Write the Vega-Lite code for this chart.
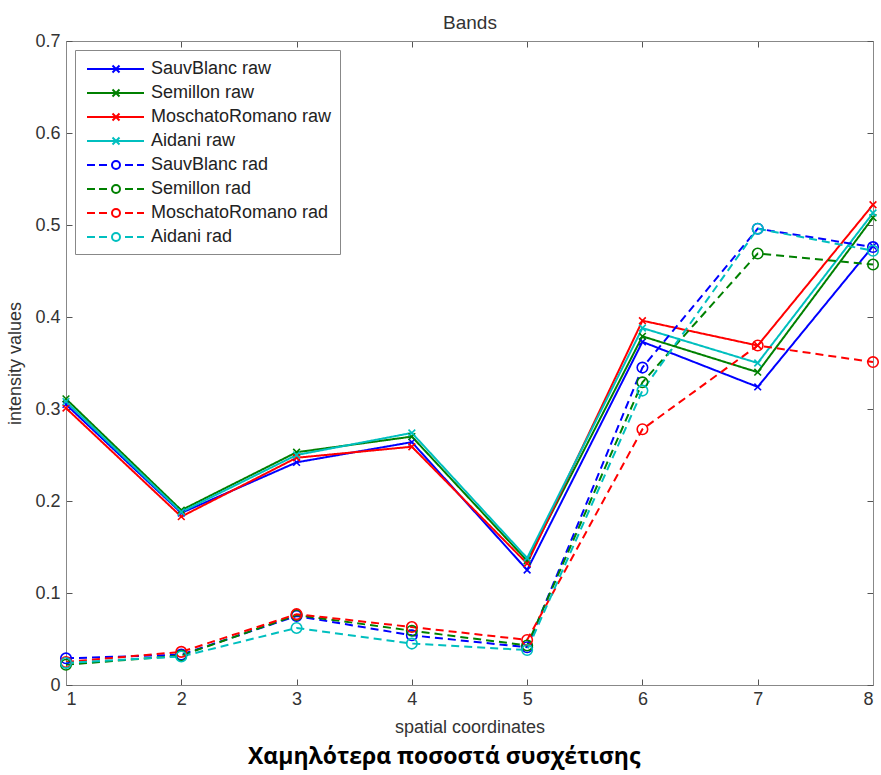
{
  "$schema": "https://vega.github.io/schema/vega-lite/v6.json",
  "width": 807,
  "height": 644,
  "autosize": {"type": "none"},
  "padding": {"left": 66, "top": 41, "right": 8, "bottom": 90},
  "background": "white",
  "config": {
    "view": {"stroke": null},
    "font": "Liberation Sans",
    "axis": {"domainColor": "#888888", "tickColor": "#555555", "grid": false, "labelFont": "Liberation Sans", "titleFont": "Liberation Sans", "labelColor": "#333333", "titleColor": "#333333", "titleFontWeight": "normal", "labelFontSize": 18, "titleFontSize": 18}
  },
  "title": {"text": "Χαμηλότερα ποσοστά συσχέτισης", "orient": "bottom", "anchor": "middle", "frame": "bounds", "font": "Open Sans", "fontSize": 23, "fontWeight": "bold", "color": "black", "offset": 10},
  "data": {"values": [
    {"x":1,"series":"SauvBlanc raw","type":"raw","v":0.305},{"x":2,"series":"SauvBlanc raw","type":"raw","v":0.187},{"x":3,"series":"SauvBlanc raw","type":"raw","v":0.242},{"x":4,"series":"SauvBlanc raw","type":"raw","v":0.264},{"x":5,"series":"SauvBlanc raw","type":"raw","v":0.125},{"x":6,"series":"SauvBlanc raw","type":"raw","v":0.373},{"x":7,"series":"SauvBlanc raw","type":"raw","v":0.324},{"x":8,"series":"SauvBlanc raw","type":"raw","v":0.477},
    {"x":1,"series":"Semillon raw","type":"raw","v":0.311},{"x":2,"series":"Semillon raw","type":"raw","v":0.190},{"x":3,"series":"Semillon raw","type":"raw","v":0.253},{"x":4,"series":"Semillon raw","type":"raw","v":0.270},{"x":5,"series":"Semillon raw","type":"raw","v":0.135},{"x":6,"series":"Semillon raw","type":"raw","v":0.379},{"x":7,"series":"Semillon raw","type":"raw","v":0.340},{"x":8,"series":"Semillon raw","type":"raw","v":0.508},
    {"x":1,"series":"MoschatoRomano raw","type":"raw","v":0.301},{"x":2,"series":"MoschatoRomano raw","type":"raw","v":0.183},{"x":3,"series":"MoschatoRomano raw","type":"raw","v":0.247},{"x":4,"series":"MoschatoRomano raw","type":"raw","v":0.259},{"x":5,"series":"MoschatoRomano raw","type":"raw","v":0.132},{"x":6,"series":"MoschatoRomano raw","type":"raw","v":0.396},{"x":7,"series":"MoschatoRomano raw","type":"raw","v":0.369},{"x":8,"series":"MoschatoRomano raw","type":"raw","v":0.522},
    {"x":1,"series":"Aidani raw","type":"raw","v":0.308},{"x":2,"series":"Aidani raw","type":"raw","v":0.188},{"x":3,"series":"Aidani raw","type":"raw","v":0.250},{"x":4,"series":"Aidani raw","type":"raw","v":0.274},{"x":5,"series":"Aidani raw","type":"raw","v":0.138},{"x":6,"series":"Aidani raw","type":"raw","v":0.388},{"x":7,"series":"Aidani raw","type":"raw","v":0.350},{"x":8,"series":"Aidani raw","type":"raw","v":0.513},
    {"x":1,"series":"SauvBlanc rad","type":"rad","v":0.029},{"x":2,"series":"SauvBlanc rad","type":"rad","v":0.033},{"x":3,"series":"SauvBlanc rad","type":"rad","v":0.075},{"x":4,"series":"SauvBlanc rad","type":"rad","v":0.054},{"x":5,"series":"SauvBlanc rad","type":"rad","v":0.041},{"x":6,"series":"SauvBlanc rad","type":"rad","v":0.345},{"x":7,"series":"SauvBlanc rad","type":"rad","v":0.496},{"x":8,"series":"SauvBlanc rad","type":"rad","v":0.476},
    {"x":1,"series":"Semillon rad","type":"rad","v":0.022},{"x":2,"series":"Semillon rad","type":"rad","v":0.032},{"x":3,"series":"Semillon rad","type":"rad","v":0.076},{"x":4,"series":"Semillon rad","type":"rad","v":0.059},{"x":5,"series":"Semillon rad","type":"rad","v":0.043},{"x":6,"series":"Semillon rad","type":"rad","v":0.329},{"x":7,"series":"Semillon rad","type":"rad","v":0.469},{"x":8,"series":"Semillon rad","type":"rad","v":0.457},
    {"x":1,"series":"MoschatoRomano rad","type":"rad","v":0.025},{"x":2,"series":"MoschatoRomano rad","type":"rad","v":0.036},{"x":3,"series":"MoschatoRomano rad","type":"rad","v":0.077},{"x":4,"series":"MoschatoRomano rad","type":"rad","v":0.063},{"x":5,"series":"MoschatoRomano rad","type":"rad","v":0.049},{"x":6,"series":"MoschatoRomano rad","type":"rad","v":0.278},{"x":7,"series":"MoschatoRomano rad","type":"rad","v":0.369},{"x":8,"series":"MoschatoRomano rad","type":"rad","v":0.351},
    {"x":1,"series":"Aidani rad","type":"rad","v":0.024},{"x":2,"series":"Aidani rad","type":"rad","v":0.031},{"x":3,"series":"Aidani rad","type":"rad","v":0.062},{"x":4,"series":"Aidani rad","type":"rad","v":0.045},{"x":5,"series":"Aidani rad","type":"rad","v":0.038},{"x":6,"series":"Aidani rad","type":"rad","v":0.320},{"x":7,"series":"Aidani rad","type":"rad","v":0.496},{"x":8,"series":"Aidani rad","type":"rad","v":0.472}
  ]},
  "resolve": {"axis": {"x": "independent", "y": "independent"}},
  "layer": [
    {
      "mark": {"type": "line", "strokeWidth": 2},
      "encoding": {
        "x": {"field": "x", "type": "quantitative", "scale": {"domain": [1, 8], "nice": false, "zero": false},
              "axis": {"orient": "bottom", "title": "spatial coordinates", "values": [1,2,3,4,5,6,7,8], "format": "d", "tickSize": -6, "labelPadding": 11, "titlePadding": 10}},
        "y": {"field": "v", "type": "quantitative", "scale": {"domain": [0, 0.7], "nice": false},
              "axis": {"orient": "left", "title": "intensity values", "values": [0,0.1,0.2,0.3,0.4,0.5,0.6,0.7], "format": "~g", "tickSize": -6, "labelPadding": 12, "titlePadding": 10}},
        "color": {"field": "series", "type": "nominal", "title": null,
          "scale": {"domain": ["SauvBlanc raw","Semillon raw","MoschatoRomano raw","Aidani raw","SauvBlanc rad","Semillon rad","MoschatoRomano rad","Aidani rad"],
                    "range": ["#0000ff","#008000","#ff0000","#00bfbf","#0000ff","#008000","#ff0000","#00bfbf"]},
          "legend": {"orient": "top-left", "offset": 9, "padding": 8, "strokeColor": "#888888", "fillColor": "white", "symbolSize": 400, "rowPadding": 4, "labelOffset": 46, "labelFontSize": 18, "labelFont": "Liberation Sans", "labelColor": "#222222", "labelLimit": 400,
            "encode": {"symbols": {"update": {
              "shape": {"signal": "indexof(datum.value, 'rad') > 0 ? 'M-0.7,0L0.1,0M0.5,0L1.3,0M1.8,0A0.4,0.4 0 1,0 2.6,0A0.4,0.4 0 1,0 1.8,0M3.1,0L3.9,0M4.3,0L5,0' : 'M-0.7,0L5,0M1.85,-0.35L2.55,0.35M1.85,0.35L2.55,-0.35'"},
              "stroke": {"scale": "color", "field": "value"},
              "fill": {"value": "transparent"},
              "strokeWidth": {"value": 2},
              "strokeDash": {"value": []},
              "opacity": {"value": 1}
            }}}}},
        "strokeDash": {"field": "type", "type": "nominal", "scale": {"domain": ["raw", "rad"], "range": [[1, 0], [8, 5]]}, "legend": null},
        "detail": {"field": "series"}
      }
    },
    {
      "mark": {"type": "point", "filled": false, "strokeWidth": 1.6, "opacity": 1},
      "encoding": {
        "x": {"field": "x", "type": "quantitative",
              "axis": {"orient": "top", "title": "Bands", "labels": false, "values": [1,2,3,4,5,6,7,8], "tickSize": -6, "titlePadding": 8, "titleFontSize": 19}},
        "y": {"field": "v", "type": "quantitative",
              "axis": {"orient": "right", "title": null, "labels": false, "values": [0,0.1,0.2,0.3,0.4,0.5,0.6,0.7], "tickSize": -6}},
        "color": {"field": "series", "type": "nominal"},
        "shape": {"field": "type", "type": "nominal", "scale": {"domain": ["raw", "rad"], "range": ["M-1,-1L1,1M-1,1L1,-1", "circle"]}, "legend": null},
        "size": {"field": "type", "type": "nominal", "scale": {"domain": ["raw", "rad"], "range": [45, 110]}, "legend": null}
      }
    }
  ]
}
